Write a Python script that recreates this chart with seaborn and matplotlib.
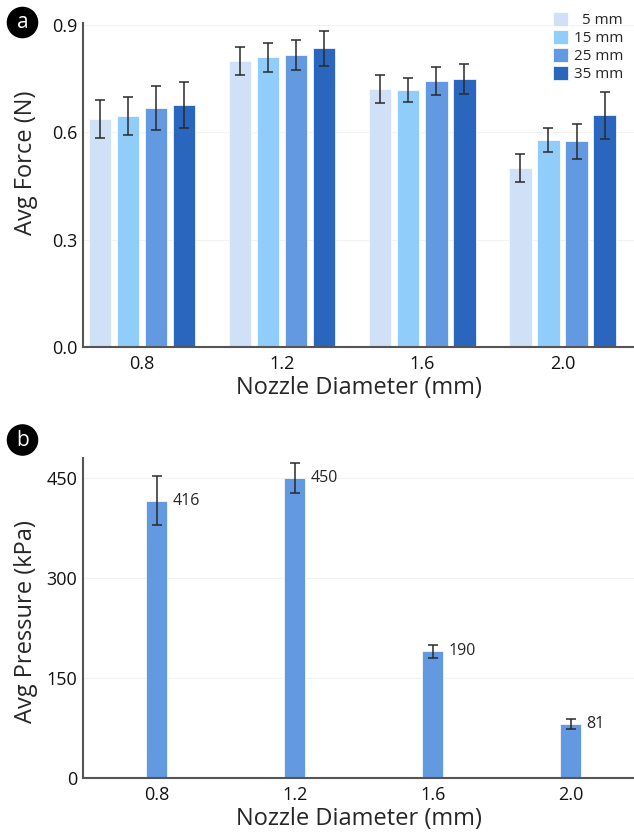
import matplotlib
matplotlib.use("Agg")
import matplotlib.pyplot as plt
import seaborn as sns
import pandas as pd
import numpy as np

# ---- data ----
diameters = ["0.8", "1.2", "1.6", "2.0"]
lengths = ["  5 mm", "15 mm", "25 mm", "35 mm"]
force_5 = [0.637, 0.799, 0.721, 0.500]
force_15 = [0.646, 0.810, 0.718, 0.578]
force_25 = [0.668, 0.816, 0.743, 0.575]
force_35 = [0.676, 0.835, 0.749, 0.648]
err_5 = [0.052, 0.040, 0.039, 0.039]
err_15 = [0.053, 0.040, 0.034, 0.034]
err_25 = [0.062, 0.042, 0.040, 0.049]
err_35 = [0.065, 0.049, 0.042, 0.066]
pressure = [416, 450, 190, 81]
pressure_err = [37, 22, 10, 7.5]
force_ticks = [0.0, 0.3, 0.6, 0.9]
pressure_ticks = [0, 150, 300, 450]

colors = ["#cfe0f7", "#90cdfa", "#6399e1", "#2a66be"]

sns.set_theme(style="white")
plt.rcParams['font.family'] = ['Open Sans', 'DejaVu Sans']

fig = plt.figure(figsize=(6.34, 8.4), dpi=100)
ax1 = fig.add_axes([83 / 634, 1 - 347 / 840, 551 / 634, 324 / 840])
ax2 = fig.add_axes([83 / 634, 1 - 778 / 840, 551 / 634, 320 / 840])

forces = [force_5, force_15, force_25, force_35]
errs = [err_5, err_15, err_25, err_35]
rows = []
for lab, vals in zip(lengths, forces):
    for d, v in zip(diameters, vals):
        rows.append({"Diameter": d, "Length": lab, "Force": v})
df = pd.DataFrame(rows)

sns.barplot(data=df, x="Diameter", y="Force", hue="Length", order=diameters,
            hue_order=lengths, palette=colors, saturation=1, errorbar=None,
            width=0.8, gap=0.2, edgecolor="white", linewidth=0.5, ax=ax1, zorder=2)
for cont, e in zip(ax1.containers, errs):
    xs = [p.get_x() + p.get_width() / 2 for p in cont]
    ys = [p.get_height() for p in cont]
    ax1.errorbar(xs, ys, yerr=e, fmt="none", ecolor="#2a2a2a", elinewidth=1.1,
                 capsize=3.6, capthick=1.1, zorder=3)

ax1.set_ylim(0, 0.9056)
ax1.set_xlim(-0.42, 3.51)
ax1.set_yticks(force_ticks)
ax1.set_yticklabels([f"{t:.1f}" for t in force_ticks])
ax1.set_xlabel("Nozzle Diameter (mm)", fontsize=17, labelpad=2)
ax1.set_ylabel("Avg Force (N)", fontsize=17)
ax1.yaxis.set_label_coords(-0.082, 0.57)
leg = ax1.legend(loc="upper right", frameon=False, fontsize=11, handlelength=1.0,
                 handleheight=1.0, handletextpad=0.35, labelspacing=0.12,
                 borderpad=0.0, borderaxespad=0.0, bbox_to_anchor=(0.980, 1.033))
for h in leg.legend_handles:
    h.set_edgecolor("white")

dfp = pd.DataFrame({"Diameter": diameters, "Pressure": pressure})
sns.barplot(data=dfp, x="Diameter", y="Pressure", order=diameters, color="#6399e1",
            saturation=1, width=0.152, errorbar=None, edgecolor="white", linewidth=0.5,
            ax=ax2, zorder=2)
bars = ax2.containers[0]
xs = [p.get_x() + p.get_width() / 2 for p in bars]
ax2.errorbar(xs, pressure, yerr=pressure_err, fmt="none", ecolor="#2a2a2a",
             elinewidth=1.1, capsize=3.6, capthick=1.1, zorder=3)
for p, v in zip(bars, pressure):
    ax2.annotate(f"{v}", (p.get_x() + p.get_width(), v), xytext=(4, 0),
                 textcoords="offset points", va="center", ha="left", fontsize=11.5)
ax2.set_ylim(0, 480)
ax2.set_xlim(-0.536, 3.46)
ax2.set_yticks(pressure_ticks)
ax2.set_xlabel("Nozzle Diameter (mm)", fontsize=17, labelpad=2)
ax2.set_ylabel("Avg Pressure (kPa)", fontsize=17)
ax2.yaxis.set_label_coords(-0.082, 0.49)

for ax in (ax1, ax2):
    for s in ("top", "right"):
        ax.spines[s].set_visible(False)
    for s in ("left", "bottom"):
        ax.spines[s].set_color("#555555")
        ax.spines[s].set_linewidth(1.5)
    ax.grid(axis="y", color="#f2f2f2", linewidth=0.8, zorder=0)
    ax.set_axisbelow(True)
    ax.tick_params(axis="y", length=0, labelsize=13, colors="#111111", pad=4)
    ax.tick_params(axis="x", length=0, labelsize=13, colors="#111111", pad=6)

for label, y in (("a", 1 - 22.5 / 840), ("b", 1 - 440 / 840)):
    fig.text(22.5 / 634, y, label, ha="center", va="center", color="white", fontsize=15,
             bbox=dict(boxstyle="circle,pad=0.22", fc="black", ec="black"))

fig.savefig("out.png", dpi=100)
